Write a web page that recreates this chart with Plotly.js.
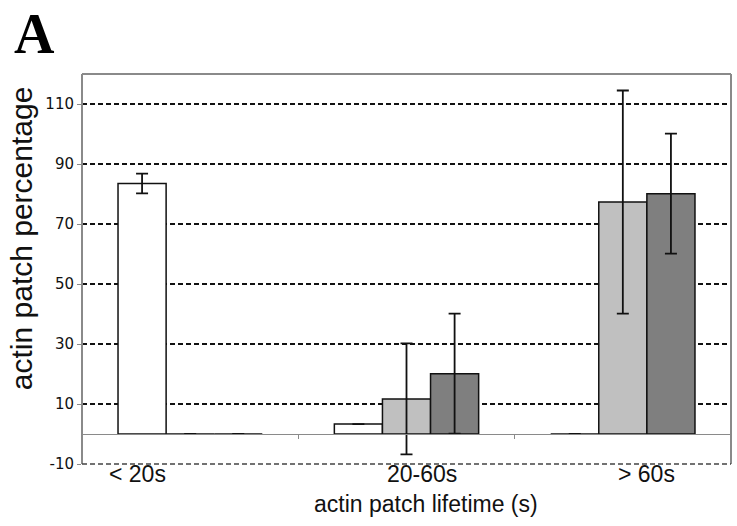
<!DOCTYPE html>
<html>
<head>
<meta charset="utf-8">
<script src="https://cdn.plot.ly/plotly-3.0.1.min.js"></script>
<style>html,body{margin:0;padding:0;background:#fff;}#chart{width:737px;height:526px;}</style>
</head>
<body>
<div id="chart"></div>
<script>
// Data
var categories = ["< 20s", "20-60s", "> 60s"];
var whiteValues = [83.5, 3.3, 0];
var whiteErrors = [3.3, 0, 0];
var lightValues = [0, 11.7, 77.3];
var lightErrors = [0, 18.5, 37.2];
var darkValues = [0, 20.1, 80.1];
var darkErrors = [0, 20, 20];
var yTickVals = [-10, 10, 30, 50, 70, 90, 110];
var yTickText = ["-10", "10", "30", "50", "70", "90", "110"];
var yRange = [-10, 120];
var labelShifts = [-53, 15, 24];

function barTrace(vals, errs, color) {
  return {
    type: "bar",
    x: categories,
    y: vals,
    marker: {color: color, line: {color: "#111", width: 1.5}},
    error_y: {type: "data", array: errs, visible: true, color: "#111", thickness: 1.8, width: 6},
    hoverinfo: "skip"
  };
}

var data = [
  barTrace(whiteValues, whiteErrors, "#ffffff"),
  barTrace(lightValues, lightErrors, "#c0c0c0"),
  barTrace(darkValues, darkErrors, "#7f7f7f")
];

var sans = "Liberation Sans, Arial, sans-serif";
var annotations = categories.map(function (c, i) {
  return {
    x: c, xref: "x", y: 0, yref: "paper", yanchor: "top", yshift: 4, borderpad: 0,
    xshift: labelShifts[i], text: c, showarrow: false,
    font: {family: sans, size: 23, color: "#111"}
  };
});
annotations.push({
  text: "actin patch lifetime (s)", xref: "paper", yref: "paper", borderpad: 0,
  x: 0.53, y: 0, xanchor: "center", yanchor: "top", yshift: -26, showarrow: false,
  font: {family: sans, size: 23, color: "#111"}
});
annotations.push({
  text: "actin patch percentage", xref: "paper", yref: "paper", textangle: -90,
  x: -0.094, y: 0.579, xanchor: "center", yanchor: "middle", showarrow: false,
  font: {family: sans, size: 30, color: "#111"}
});
annotations.push({
  text: "<b>A</b>", xref: "paper", yref: "paper", x: -0.108, y: 1.188,
  xanchor: "left", yanchor: "top", showarrow: false,
  font: {family: "Liberation Serif, Times New Roman, serif", size: 56, color: "#000"}
});

var layout = {
  width: 737, height: 526,
  margin: {l: 82, r: 6, t: 74, b: 62},
  paper_bgcolor: "#fff", plot_bgcolor: "#fff",
  showlegend: false,
  barmode: "group",
  bargap: 0.333, bargroupgap: 0,
  xaxis: {
    type: "category",
    range: [-0.5, 2.5],
    anchor: "free",
    position: (0 - yRange[0]) / (yRange[1] - yRange[0]),
    showline: true, linecolor: "#8a8a8a", linewidth: 1,
    showgrid: false, zeroline: false,
    ticks: "outside", tickson: "boundaries", ticklen: 4, tickcolor: "#8a8a8a", tickwidth: 1,
    showticklabels: false
  },
  yaxis: {
    range: yRange,
    tickmode: "array", tickvals: yTickVals, ticktext: yTickText,
    showgrid: true, gridcolor: "#111", gridwidth: 1.3, griddash: "5px,3px",
    zeroline: false,
    showline: false,
    ticks: "outside", ticklen: 4, tickcolor: "#8a8a8a",
    tickfont: {family: "DejaVu Sans, Verdana, sans-serif", size: 15, color: "#111"}
  },
  shapes: [
    {type: "line", xref: "paper", yref: "paper", x0: 0, x1: 0, y0: 0, y1: 1, line: {color: "#8a8a8a", width: 2}},
    {type: "line", xref: "paper", yref: "paper", x0: 0, x1: 1, y0: 1, y1: 1, line: {color: "#8a8a8a", width: 2}},
    {type: "line", xref: "paper", yref: "paper", x0: 1, x1: 1, y0: 0, y1: 1, line: {color: "#8a8a8a", width: 2}},
    {type: "line", xref: "paper", yref: "paper", x0: 0, x1: 1, y0: 0, y1: 0, line: {color: "#444", width: 1.3, dash: "5px,3px"}}
  ],
  annotations: annotations
};

Plotly.newPlot("chart", data, layout, {displayModeBar: false, staticPlot: true});
</script>
</body>
</html>
